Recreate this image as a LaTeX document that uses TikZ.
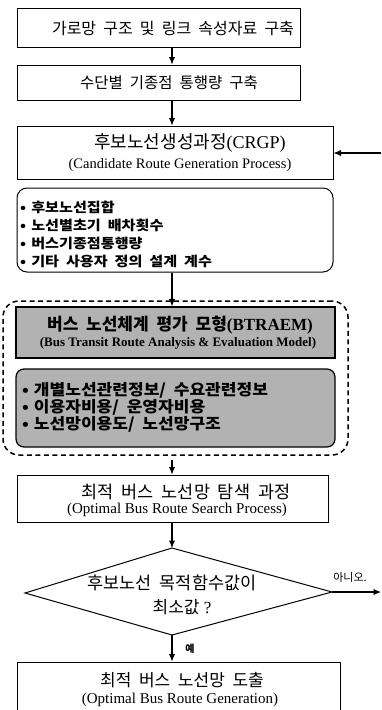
\documentclass[tikz,border=0pt]{standalone}
\usepackage{fontspec}
\setmainfont{Liberation Serif}
\newfontfamily\kr[WordSpace=1.3]{Noto Sans CJK KR}
\newfontfamily\krw[WordSpace=2]{Noto Sans CJK KR}
\usetikzlibrary{arrows.meta}
\newcommand\bul{•\kern4.5pt}
\begin{document}
\begin{tikzpicture}[x=1pt,y=-1pt,
  box/.style={draw, line width=1pt, inner sep=0pt},
  graybox/.style={draw, line width=1.2pt, fill=black!30, inner sep=0pt},
  txt/.style={inner sep=0pt, anchor=center},
  item/.style={inner sep=0pt, anchor=west, xscale=1.12, font=\krw\bfseries\fontsize{13.5}{15}\selectfont},
  gitem/.style={inner sep=0pt, anchor=west, xscale=1.1, font=\kr\bfseries\fontsize{15.5}{17}\selectfont},
  arr/.style={-{Latex[length=7.5pt,width=6.5pt]}, line width=1.1pt},
  ktitle/.style={txt, font=\kr\fontsize{16}{18}\selectfont},
  etitle/.style={txt, font=\fontsize{14.5}{16}\selectfont}]
\useasboundingbox (0,0) rectangle (381,710);
\coordinate (ax) at (172,0);

% box 1
\node[box, minimum width=283pt, minimum height=39pt] (b1) at (158.5,27.5) {};
\node[ktitle, font=\kr\fontsize{16}{18}\selectfont] (t1) at (173,28) {가로망 구조 및 링크 속성자료 구축};
% box 2
\node[box, minimum width=283pt, minimum height=35pt] (b2) at (158.5,82.5) {};
\node[ktitle, font=\kr\fontsize{15.5}{18}\selectfont] (t2) at (169,83) {수단별 기종점 통행량 구축};
% CRGP
\node[box, minimum width=316pt, minimum height=53pt] (b3) at (175,152.5) {};
\node[txt, font=\fontsize{18}{20}\selectfont] (t3a) at (190,143) {{\kr 후보노선생성과정}(CRGP)};
\node[etitle] (t3b) at (180,165) {(Candidate Route Generation Process)};
% list
\node[box, rounded corners=10pt, minimum width=316pt, minimum height=84pt] (l1) at (175,230) {};
\node[item] (i1) at (20,207) {\bul 후보노선집합};
\node[item] (i2) at (20,225) {\bul 노선별초기 배차횟수};
\node[item] (i3) at (20,243) {\bul 버스기종점통행량};
\node[item] (i4) at (20,261) {\bul 기타 사용자 정의 설계 계수};

% dashed BTRAEM group
\node[draw, line width=1.5pt, dash pattern=on 5pt off 3.5pt, rounded corners=16pt, minimum width=345pt, minimum height=154pt, inner sep=0pt] (d) at (175.5,378) {};
\node[graybox, minimum width=319pt, minimum height=51pt] (g1) at (175.5,332.5) {};
\node[txt, font=\bfseries\fontsize{17}{19}\selectfont] (g1a) at (180,325) {{\kr\bfseries 버스 노선체계 평가 모형}(BTRAEM)};
\node[txt, font=\bfseries\fontsize{13}{14}\selectfont] (g1b) at (178,343) {(Bus Transit Route Analysis \& Evaluation Model)};
\node[graybox, rounded corners=8pt, minimum width=319pt, minimum height=78pt] (g2) at (175.5,408) {};
\node[gitem] (j1) at (22,390) {\bul 개별노선관련정보/ 수요관련정보};
\node[gitem] (j2) at (22,407) {\bul 이용자비용/ 운영자비용};
\node[gitem] (j3) at (22,424) {\bul 노선망이용도/ 노선망구조};

% OBRSP
\node[box, minimum width=311pt, minimum height=47pt] (o1) at (172.5,498.5) {};
\node[ktitle, font=\kr\fontsize{17.5}{19}\selectfont] (o1a) at (186,492) {최적 버스 노선망 탐색 과정};
\node[etitle, font=\fontsize{15}{16}\selectfont] (o1b) at (177,510) {(Optimal Bus Route Search Process)};

% diamond
\coordinate (dT) at (172,548);
\coordinate (dR) at (332,592);
\coordinate (dB) at (172,635);
\coordinate (dL) at (25,593);
\draw[line width=1pt] (dT) -- (dR) -- (dB) -- (dL) -- cycle;
\node[ktitle, font=\kr\fontsize{17.5}{19}\selectfont] (q1) at (172,583) {후보노선 목적함수값이};
\node[txt, font=\fontsize{17}{19}\selectfont] (q2) at (182,607) {{\kr 최소값} ?};

% final
\node[box, minimum width=323pt, minimum height=50pt] (f1) at (178.5,687) {};
\node[ktitle, font=\kr\fontsize{17}{19}\selectfont] (f1a) at (182,680) {최적 버스 노선망 도출};
\node[etitle, font=\fontsize{15}{16}\selectfont] (f1b) at (180,700) {(Optimal Bus Route Generation)};

% arrows
\draw[arr] (b1.south -| ax) -- (b2.north -| ax);
\draw[arr] (b2.south -| ax) -- (b3.north -| ax);
\draw[arr] (l1.south -| ax) -- (g1.north -| ax);
\draw[arr] ([yshift=-4pt]d.south -| ax) -- (o1.north -| ax);
\draw[arr] (o1.south -| ax) -- (dT);
\draw[arr] (dB) -- (f1.north -| ax);
\node[txt, font=\kr\bfseries\fontsize{10}{12}\selectfont] (yes) at (190,649) {예};
\coordinate (eR) at (381,592);
\draw[arr] (dR) -- (eR);
\node[txt, font=\kr\fontsize{11}{13}\selectfont] (no) at (350,577) {아니오.};
\coordinate (eL) at (381,153);
\draw[arr] (eL) -- (b3.east |- eL);
\end{tikzpicture}
\end{document}
